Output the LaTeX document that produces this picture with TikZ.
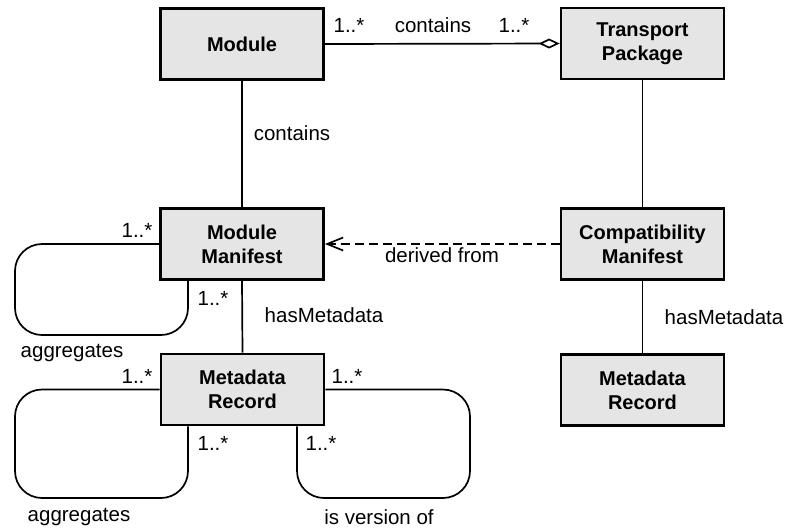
\documentclass[tikz,border=0pt]{standalone}
\usepackage{fontspec}
\setmainfont{Liberation Sans}
\usetikzlibrary{arrows.meta}
\begin{document}
\begin{tikzpicture}[x=1pt,y=1pt,
  cls/.style={draw=black, line width=2.8pt, fill=black!10, minimum width=163pt,
    minimum height=71pt, inner sep=0pt, align=center,
    font=\fontsize{20}{24}\selectfont\bfseries},
  conn/.style={line width=1.7pt},
  lbl/.style={font=\fontsize{20.5}{24}\selectfont, inner sep=0pt},
  loop/.style={conn, rounded corners=27pt}]
\useasboundingbox (0,0) rectangle (786,-531);

% classes
\node[cls] (module) at (242,-44) {Module};
\node[cls] (tp) at (642.5,-43.5) {Transport\\Package};
\node[cls] (mm) at (242,-244) {Module\\Manifest};
\node[cls] (cm) at (642.5,-244) {Compatibility\\Manifest};
\node[cls] (mr) at (242.5,-389.5) {Metadata\\Record};
\node[cls] (mr2) at (642.5,-390) {Metadata\\Record};

% associations
\draw[conn, -{Diamond[open, fill=white, length=21pt, width=10pt, line width=1.7pt]}]
  (module.east) -- (tp.west);
\draw[conn] (module.south) -- (mm.north);
\draw[conn] (tp.south) -- (cm.north);
\draw[conn, dash pattern=on 9pt off 5pt,
  -{Straight Barb[length=16pt, width=13pt, line width=1.7pt]}]
  (cm.west) -- (mm.east);
\draw[conn] (mm.south) -- (mr.north);
\draw[conn] (cm.south) -- (mr2.north);

% self associations
\coordinate (mmL) at (15,-335);
\coordinate (mmR) at (188,-335);
\draw[loop] (mm.west) -| (mmL) -- (mmR) -- (mmR |- mm.south);
\coordinate (mrL) at (15,-498);
\coordinate (mrR) at (188,-498);
\draw[loop] (mr.west) -| (mrL) -- (mrR) -- (mrR |- mr.south);
\coordinate (vR) at (470,-498);
\coordinate (vL) at (297,-498);
\draw[loop] (mr.east) -| (vR) -- (vL) -- (vL |- mr.south);

% labels
\node[lbl] (l1) at (349,-25) {1..*};
\node[lbl] (l2) at (433,-25) {contains};
\node[lbl] (l3) at (514,-25) {1..*};
\node[lbl] (l4) at (292,-133) {contains};
\node[lbl] (l5) at (137,-230) {1..*};
\node[lbl] (l6) at (213,-298) {1..*};
\node[lbl] (l7) at (324,-315) {hasMetadata};
\node[lbl] (l8) at (442,-255) {derived from};
\node[lbl] (l9) at (724,-317) {hasMetadata};
\node[lbl] (l10) at (72,-353) {aggregates};
\node[lbl] (l11) at (137,-376) {1..*};
\node[lbl] (l12) at (213,-443) {1..*};
\node[lbl] (l13) at (347,-376) {1..*};
\node[lbl] (l14) at (321,-443) {1..*};
\node[lbl] (l15) at (79,-517) {aggregates};
\node[lbl] (l16) at (379,-517) {is version of};
\end{tikzpicture}
\end{document}
